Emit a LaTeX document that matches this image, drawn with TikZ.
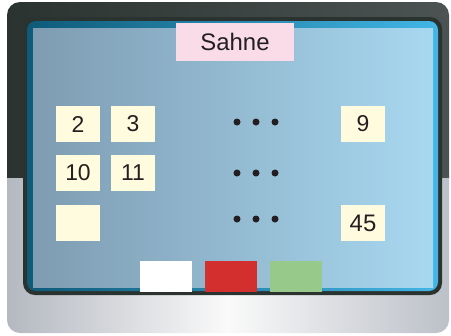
\documentclass[tikz,border=0pt]{standalone}
\usepackage{fontspec}
\setmainfont{Liberation Sans}
\definecolor{darkA}{HTML}{2B3331}
\definecolor{darkB}{HTML}{4B5452}
\definecolor{silverL}{HTML}{B4B8C0}
\definecolor{silverM}{HTML}{FAFAFA}
\definecolor{silverR}{HTML}{BCC0C8}
\definecolor{rimL}{HTML}{0E5A78}
\definecolor{rimR}{HTML}{42B6E6}
\definecolor{scrL}{HTML}{7E9CB2}
\definecolor{scrR}{HTML}{A8D8F0}
\definecolor{pinkbox}{HTML}{FADCE8}
\definecolor{cream}{HTML}{FFFBDF}
\definecolor{txt}{HTML}{231F20}
\definecolor{redbox}{HTML}{D32F2F}
\definecolor{greenbox}{HTML}{97C98B}
\tikzset{
  seat/.style={fill=cream, draw=none, minimum width=44bp, minimum height=36bp, inner sep=0pt, text=txt, font=\fontsize{23}{26}\selectfont},
  dot/.style={circle, fill=txt, draw=none, minimum size=7bp, inner sep=0pt},
  swatch/.style={draw=none, minimum width=52bp, minimum height=31bp, inner sep=0pt}
}
\begin{document}
\begin{tikzpicture}[x=1bp,y=-1bp]
\useasboundingbox (0,0) rectangle (451,335);
% outer casing
\begin{scope}
  \clip[rounded corners=13bp] (7,2) rectangle (449,333);
  \shade[left color=darkA, right color=darkB] (7,2) rectangle (449,178);
  \shade[left color=silverL, right color=silverR, middle color=silverM] (7,178) rectangle (449,333);
\end{scope}
% bezel
\fill[darkA, rounded corners=12bp] (23,17) rectangle (442,295);
\shade[left color=rimL, right color=rimR, rounded corners=9bp] (27,21) rectangle (438,291);
\shade[left color=scrL, right color=scrR] (33,28) rectangle (433,287);
% stage
\node[fill=pinkbox, draw=none, minimum width=118bp, minimum height=38bp, inner sep=0pt, text=txt, font=\fontsize{24}{26}\selectfont] (stage) at (235,42) {Sahne};
% seats
\node[seat] (s2) at (78,124) {2};
\node[seat] (s3) at (133,124) {3};
\node[seat] (s10) at (78,173) {10};
\node[seat] (s11) at (133,173) {11};
\node[seat] (s37) at (78,223) {};
\node[seat] (s9) at (363,124) {9};
\node[seat, font=\fontsize{24}{26}\selectfont] (s45) at (363,223) {\raisebox{-2bp}{45}\hspace{4bp}};
% dots
\foreach \r/\y in {1/122,2/173,3/219}{
  \node[dot] (d\r a) at (237,\y) {};
  \node[dot] (d\r b) at (256,\y) {};
  \node[dot] (d\r c) at (275,\y) {};
}
% swatches
\node[swatch, fill=white] (w) at (166,276.5) {};
\node[swatch, fill=redbox] (r) at (231,276.5) {};
\node[swatch, fill=greenbox] (g) at (296,276.5) {};
\end{tikzpicture}
\end{document}
